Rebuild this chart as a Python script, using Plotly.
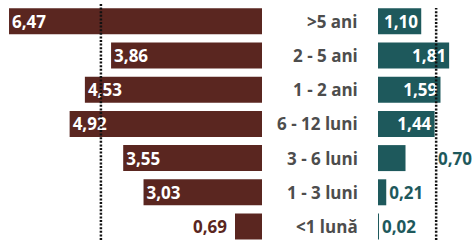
import plotly.graph_objects as go

categories = [">5 ani", "2 - 5 ani", "1 - 2 ani", "6 - 12 luni", "3 - 6 luni", "1 - 3 luni", "<1 lună"]
left_values = [6.47, 3.86, 4.53, 4.92, 3.55, 3.03, 0.69]
right_values = [1.10, 1.81, 1.59, 1.44, 0.70, 0.21, 0.02]
left_avg = 4.12
right_avg = 1.48

LEFT_COLOR = "#5a2620"
RIGHT_COLOR = "#1e595c"
FONT = "Open Sans"
FS = 17

def fmt(v):
    return f"{v:.2f}".replace(".", ",")

left_text = [fmt(v) if v > 1 else "" for v in left_values]
right_pos = ["inside" if v > 1 else "outside" for v in right_values]
right_text = [fmt(v) if not (0.5 < v < 1) else "" for v in right_values]

fig = go.Figure()
fig.add_trace(go.Bar(
    y=categories, x=left_values, orientation="h", xaxis="x", yaxis="y",
    marker=dict(color=LEFT_COLOR, line=dict(width=0)), width=0.76,
    text=left_text, textposition="inside",
    insidetextanchor="end", constraintext="none", cliponaxis=False,
    insidetextfont=dict(color="white", size=FS, family=FONT, weight="bold"),
    hoverinfo="skip",
))
fig.add_trace(go.Bar(
    y=categories, x=right_values, orientation="h", xaxis="x2", yaxis="y",
    marker=dict(color=RIGHT_COLOR, line=dict(width=0)), width=0.76,
    text=right_text, textposition=right_pos,
    insidetextanchor="end", constraintext="none", cliponaxis=False,
    insidetextfont=dict(color="white", size=FS, family=FONT, weight="bold"),
    outsidetextfont=dict(color=RIGHT_COLOR, size=FS, family=FONT, weight="bold"),
    hoverinfo="skip",
))

annotations = []
for c in categories:
    annotations.append(dict(
        x=360 / 475, xref="paper", y=c, yref="y", text=c, showarrow=False,
        xanchor="right", yanchor="middle",
        font=dict(color="#4d4d4d", size=FS, family=FONT, weight="bold"),
    ))
for c, v in zip(categories, left_values):
    if v <= 1:
        annotations.append(dict(
            x=v, xref="x", y=c, yref="y", text=fmt(v), showarrow=False,
            xanchor="right", yanchor="middle", xshift=-6,
            font=dict(color=LEFT_COLOR, size=FS, family=FONT, weight="bold"),
        ))
for c, v in zip(categories, right_values):
    if 0.5 < v < 1:
        annotations.append(dict(
            x=right_avg, xref="x2", y=c, yref="y", text=fmt(v), showarrow=False,
            xanchor="left", yanchor="middle", xshift=0,
            font=dict(color=RIGHT_COLOR, size=FS, family=FONT, weight="bold"),
        ))

shapes = [
    dict(type="line", xref="x", yref="paper", x0=left_avg, x1=left_avg, y0=0, y1=0.983,
         line=dict(color="#111111", width=2.5, dash="2px,1.6px")),
    dict(type="line", xref="x2", yref="paper", x0=right_avg, x1=right_avg, y0=0, y1=0.967,
         line=dict(color="#111111", width=2.5, dash="2px,1.6px")),
]

fig.update_layout(
    width=475, height=240,
    margin=dict(l=0, r=0, t=0, b=0),
    paper_bgcolor="white", plot_bgcolor="white",
    showlegend=False,
    barmode="overlay",
    xaxis=dict(domain=[0, 262 / 475], range=[262 / 39.1, 0], visible=False, fixedrange=True),
    xaxis2=dict(domain=[378 / 475, 1], range=[0, 97 / 39.3], visible=False, fixedrange=True),
    yaxis=dict(range=[6.395, -0.623], visible=False, type="category",
               categoryorder="array", categoryarray=categories, fixedrange=True),
    annotations=annotations,
    shapes=shapes,
)

fig.write_html("out.html", config={"displayModeBar": False},
               post_script="document.body.style.margin='0';document.body.style.overflow='hidden';")
